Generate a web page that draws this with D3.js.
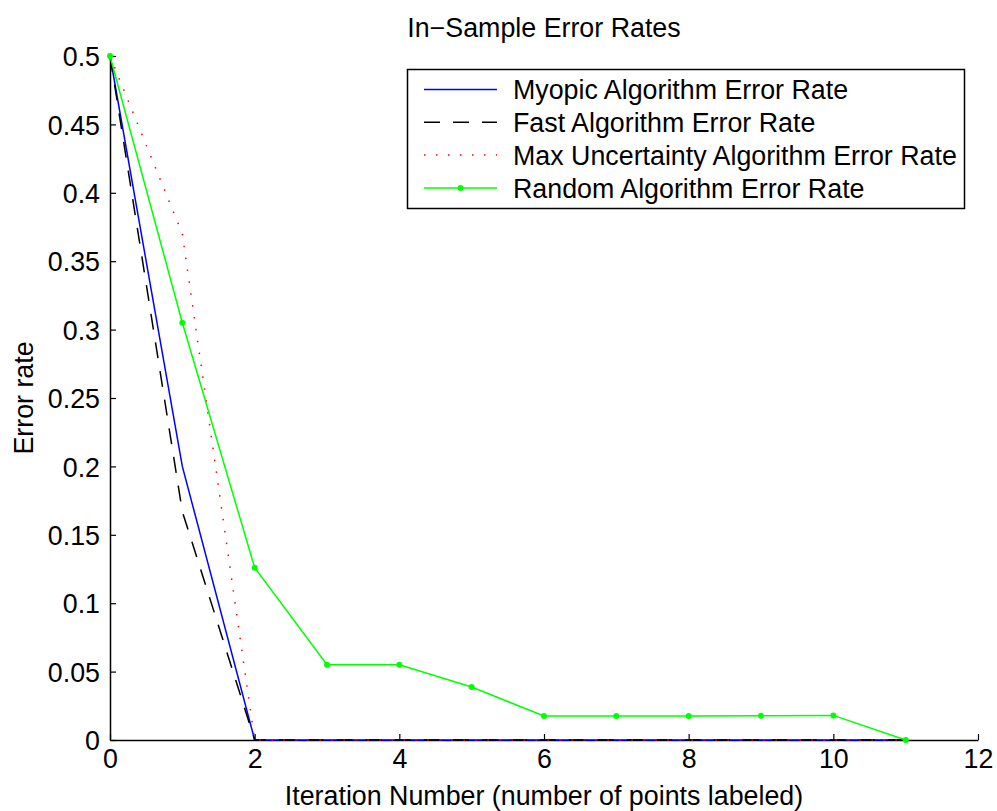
<!DOCTYPE html>
<html>
<head>
<meta charset="utf-8">
<script src="https://cdn.jsdelivr.net/npm/d3@7"></script>
<style>
    body { margin: 0; background: #fff; }
    text { font-family: "Liberation Sans", Arial, sans-serif; fill: #000; }
</style>
</head>
<body>
<svg id="chart" width="997" height="811"></svg>
<script>
// iteration numbers and error rates
const iterations = [0, 1, 2, 3, 4, 5, 6, 7, 8, 9, 10, 11];
const myopicRate = [0.5, 0.2, 0, 0, 0, 0, 0, 0, 0, 0, 0, 0];
const fastRate = [0.5, 0.167, 0, 0, 0, 0, 0, 0, 0, 0, 0, 0];
const maxUncertRate = [0.5, 0.37, 0, 0, 0, 0, 0, 0, 0, 0, 0, 0];
const randomRate = [0.5, 0.305, 0.126, 0.055, 0.055, 0.0387, 0.0175, 0.0175, 0.0176, 0.0177, 0.018, 0];

const xTicks = [0, 2, 4, 6, 8, 10, 12];
const yTicks = [0, 0.05, 0.1, 0.15, 0.2, 0.25, 0.3, 0.35, 0.4, 0.45, 0.5];

const seriesNames = [
    'Myopic Algorithm Error Rate',
    'Fast Algorithm Error Rate',
    'Max Uncertainty Algorithm Error Rate',
    'Random Algorithm Error Rate'
];

const series = [
    { name: seriesNames[0], values: myopicRate, color: '#0000ff', dash: null, markers: false },
    { name: seriesNames[1], values: fastRate, color: '#000000', dash: '16,13', markers: false },
    { name: seriesNames[2], values: maxUncertRate, color: '#ff0000', dash: '1.5,10.5', markers: false },
    { name: seriesNames[3], values: randomRate, color: '#00ff00', dash: null, markers: true }
];

const fontSize = '26.8px';
const svg = d3.select('#chart');
const plot = { left: 110, right: 978, top: 56, bottom: 740 };

const x = d3.scaleLinear().domain([0, 12]).range([plot.left, plot.right]);
const y = d3.scaleLinear().domain([0, 0.5]).range([plot.bottom, plot.top]);

// axes: only left and bottom, ticks pointing inward
const xAxis = d3.axisBottom(x).tickValues(xTicks).tickSizeInner(-6).tickSizeOuter(0)
    .tickPadding(9).tickFormat(d3.format('d'));
const yAxis = d3.axisLeft(y).tickValues(yTicks).tickSizeInner(-6).tickSizeOuter(0)
    .tickPadding(10).tickFormat(d => d === 0 ? '0' : String(+d.toFixed(2)));

const gx = svg.append('g').attr('transform', `translate(0,${plot.bottom})`).call(xAxis);
const gy = svg.append('g').attr('transform', `translate(${plot.left},0)`).call(yAxis);

[gx, gy].forEach(g => {
    g.select('.domain').attr('stroke', '#000').attr('stroke-width', 1.5);
    g.selectAll('.tick line').attr('stroke', '#000').attr('stroke-width', 1.2);
    g.selectAll('.tick text')
        .style('font-family', '"Liberation Sans", Arial, sans-serif')
        .style('font-size', fontSize)
        .attr('fill', '#000');
});
gy.selectAll('.tick text').attr('dy', '0.36em');

// the series lines
const line = d3.line()
    .x((d, i) => x(iterations[i]))
    .y(d => y(d));

series.forEach(s => {
    svg.append('path')
        .datum(s.values)
        .attr('d', line)
        .attr('fill', 'none')
        .attr('stroke', s.color)
        .attr('stroke-width', 1.5)
        .attr('stroke-dasharray', s.dash);
    if (s.markers) {
        svg.selectAll(null)
            .data(s.values)
            .enter()
            .append('circle')
            .attr('cx', (d, i) => x(iterations[i]))
            .attr('cy', d => y(d))
            .attr('r', 3)
            .attr('fill', s.color);
    }
});

// title and axis labels
svg.append('text')
    .attr('x', (plot.left + plot.right) / 2)
    .attr('y', 37)
    .attr('text-anchor', 'middle')
    .style('font-size', fontSize)
    .text('In\u2212Sample Error Rates');

svg.append('text')
    .attr('x', (plot.left + plot.right) / 2)
    .attr('y', 805)
    .attr('text-anchor', 'middle')
    .style('font-size', fontSize)
    .text('Iteration Number (number of points labeled)');

svg.append('text')
    .attr('transform', `translate(33,${(plot.top + plot.bottom) / 2}) rotate(-90)`)
    .attr('text-anchor', 'middle')
    .style('font-size', fontSize)
    .text('Error rate');

// legend
const legend = svg.append('g');
legend.append('rect')
    .attr('x', 407.5).attr('y', 69.5)
    .attr('width', 557).attr('height', 139)
    .attr('fill', '#fff')
    .attr('stroke', '#000')
    .attr('stroke-width', 1.5);

series.forEach((s, i) => {
    const ly = 89.5 + i * 32.8;
    legend.append('line')
        .attr('x1', 424).attr('x2', 497)
        .attr('y1', ly).attr('y2', ly)
        .attr('stroke', s.color)
        .attr('stroke-width', 1.5)
        .attr('stroke-dasharray', s.dash);
    if (s.markers) {
        legend.append('circle')
            .attr('cx', 460.5).attr('cy', ly).attr('r', 3)
            .attr('fill', s.color);
    }
    legend.append('text')
        .attr('x', 513)
        .attr('y', ly)
        .attr('dy', '0.36em')
        .style('font-size', fontSize)
        .text(s.name);
});
</script>
</body>
</html>
